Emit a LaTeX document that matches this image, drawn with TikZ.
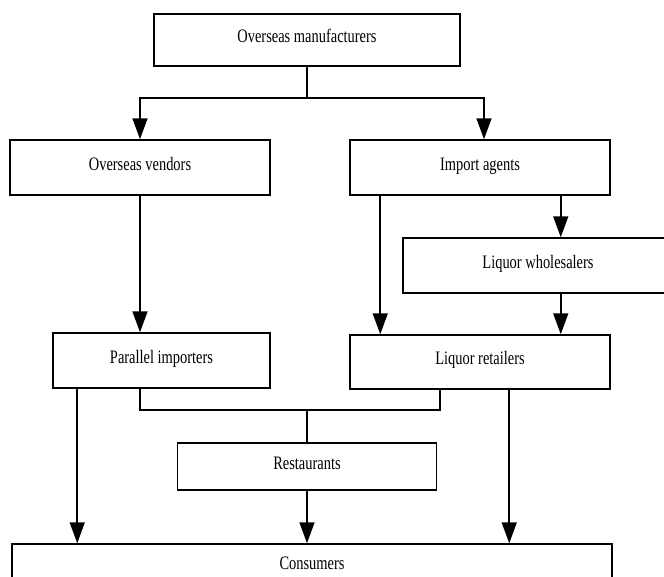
\documentclass[tikz,border=0pt]{standalone}
\usepackage{fontspec}
\setmainfont[FakeStretch=0.76]{Liberation Serif}
\usepackage{tikz}
\usetikzlibrary{%
  arrows.meta,%
  positioning%
}

\begin{document}
\begin{tikzpicture}[x=1pt,y=-1pt]
  \tikzset{
    box/.style = {draw, line width=1.5pt, rectangle, inner sep=0pt,
      text height=13pt, text depth=8pt,
      font=\fontsize{19}{22}\selectfont},
    line/.style = {line width=1.6pt},
    arr/.style = {line width=1.6pt, -{Triangle[length=21pt,width=15pt]}}
  }
  \useasboundingbox (0,0) rectangle (664,576);
  \clip (0,0) rectangle (664,576);

  \node[box, minimum width=306pt, minimum height=52pt] (manu) at (307,40) {Overseas manufacturers};
  \node[box, minimum width=260pt, minimum height=55pt] (vendors) at (140,167.5) {Overseas vendors};
  \node[box, minimum width=260pt, minimum height=55pt] (agents) at (480,167.5) {Import agents};
  \node[box, minimum width=270pt, minimum height=55pt] (whole) at (538,265.5) {Liquor wholesalers};
  \node[box, minimum width=217pt, minimum height=55pt] (parallel) at (161.5,360.5) {Parallel importers};
  \node[box, minimum width=260pt, minimum height=54pt] (retail) at (480,362) {Liquor retailers};
  \node[box, minimum width=259pt, minimum height=47pt] (rest) at (307,466.5) {Restaurants};
  \node[box, minimum width=600pt, minimum height=46pt] (cons) at (312,567) {Consumers};

  % from the manufacturers
  \coordinate (split) at ([yshift=-31pt]manu.south);
  \draw[line] (manu.south) -- (split);
  \draw[arr] (split) -| (vendors.north);
  \draw[arr] (split) -| ([xshift=4pt]agents.north);

  % vendors and agents
  \draw[arr] (vendors.south) -- (vendors.south |- parallel.north);
  \coordinate (ia1) at ([xshift=31pt]agents.south west);
  \coordinate (ia2) at ([xshift=-50pt]agents.south east);
  \draw[arr] (ia1) -- (ia1 |- retail.north);
  \draw[arr] (ia2) -- (ia2 |- whole.north);
  \draw[arr] (ia2 |- whole.south) -- (ia2 |- retail.north);

  % to restaurants
  \coordinate (pi1) at ([xshift=25pt]parallel.south west);
  \coordinate (pi2) at ([xshift=88pt]parallel.south west);
  \coordinate (lr1) at ([xshift=91pt]retail.south west);
  \coordinate (lr2) at ([xshift=160pt]retail.south west);
  \draw[line] (pi2) -- ++(0,21) coordinate (merge) -| (lr1);
  \draw[line] (merge -| rest.north) -- (rest.north);

  % to consumers
  \draw[arr] (pi1) -- (pi1 |- cons.north);
  \draw[arr] (rest.south) -- (rest.south |- cons.north);
  \draw[arr] (lr2) -- (lr2 |- cons.north);
\end{tikzpicture}
\end{document}
